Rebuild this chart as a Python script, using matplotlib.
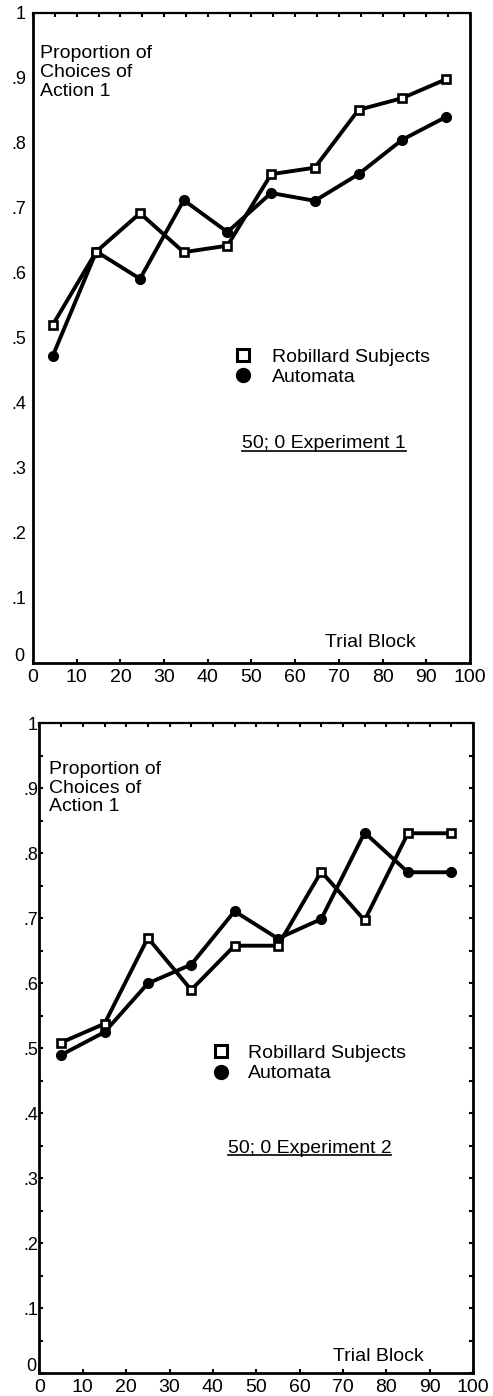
import matplotlib
matplotlib.use("Agg")
import matplotlib.pyplot as plt
from matplotlib.ticker import MultipleLocator
from matplotlib.lines import Line2D

plt.rcParams['font.family'] = ['Liberation Sans', 'DejaVu Sans']

# Experiment 1
blocks_1 = [4.5, 14.5, 24.5, 34.5, 44.5, 54.5, 64.5, 74.5, 84.5, 94.5]
robillard_1 = [0.52, 0.633, 0.692, 0.632, 0.642, 0.752, 0.762, 0.851, 0.869, 0.898]
automata_1 = [0.472, 0.633, 0.591, 0.712, 0.663, 0.723, 0.711, 0.752, 0.805, 0.840]

# Experiment 2
blocks_2 = [5, 15, 25, 35, 45, 55, 65, 75, 85, 95]
robillard_2 = [0.509, 0.538, 0.670, 0.590, 0.658, 0.658, 0.772, 0.697, 0.831, 0.831]
automata_2 = [0.490, 0.525, 0.600, 0.629, 0.711, 0.669, 0.699, 0.832, 0.771, 0.771]

x_ticks = list(range(0, 101, 10))
y_ticks = [i / 10 for i in range(11)]
# the "0" at the origin is placed by hand so it does not sit on the x label
y_labels = ['', '.1', '.2', '.3', '.4', '.5', '.6', '.7', '.8', '.9', '1']

fig = plt.figure(figsize=(4.93, 13.96), dpi=100)

panels = [
    dict(rect=[0.0669, 0.5251, 0.8864, 0.4656], x=blocks_1, r=robillard_1, a=automata_1,
         title="50; 0 Experiment 1", ypad=5, yside=False,
         prop_xy=(1.6, 0.95), leg_xy=(0.458, 0.455), leg_sq=8.5, txtpad=1.0,
         exp_xy=(47.8, 0.337), trial_xy=(66.8, 0.031)),
    dict(rect=[0.0801, 0.0162, 0.8793, 0.4656], x=blocks_2, r=robillard_2, a=automata_2,
         title="50; 0 Experiment 2", ypad=1, yside=True,
         prop_xy=(2.3, 0.942), leg_xy=(0.397, 0.477), leg_sq=9, txtpad=0.85,
         exp_xy=(43.4, 0.346), trial_xy=(67.7, 0.026)),
]

underline_texts = []
for p in panels:
    ax = fig.add_axes(p['rect'])
    ax.plot(p['x'], p['a'], color='black', lw=2.8, marker='o', ms=7,
            mfc='black', mec='black', zorder=3)
    ax.plot(p['x'], p['r'], color='black', lw=2.8, marker='s', ms=5.5,
            mfc='white', mec='black', mew=1.9, zorder=4)

    ax.set_xlim(0, 100)
    ax.set_ylim(0, 1)
    ax.set_xticks(x_ticks)
    ax.set_xticklabels([str(t) for t in x_ticks])
    ax.set_yticks(y_ticks)
    ax.set_yticklabels(y_labels)
    ax.xaxis.set_minor_locator(MultipleLocator(5))
    for s in ax.spines.values():
        s.set_linewidth(2.0)
    ax.spines['top'].set_linewidth(1.6)

    ax.tick_params(axis='x', which='major', direction='in', length=3, width=1.5,
                   top=True, labelsize=14, pad=4)
    ax.tick_params(axis='x', which='minor', direction='in', length=3, width=1.5,
                   bottom=False, top=True)
    if p['yside']:
        ax.yaxis.set_minor_locator(MultipleLocator(0.05))
        ax.tick_params(axis='y', which='both', direction='in', length=3, width=1.5,
                       left=True, right=True)
    else:
        ax.tick_params(axis='y', which='both', length=0)
    ax.tick_params(axis='y', which='major', labelsize=13, pad=p['ypad'])

    # origin label, nudged up and left a little
    ax.annotate('0', xy=(0, 0), xycoords='data', xytext=(-p['ypad'] - 1, 5),
                textcoords='offset points', ha='right', va='center', fontsize=13)

    ax.text(p['prop_xy'][0], p['prop_xy'][1], "Proportion of\nChoices of\nAction 1",
            fontsize=14, va='top', ha='left', linespacing=1.12,
            transform=ax.transData)

    handles = [
        Line2D([], [], ls='none', marker='s', ms=p['leg_sq'], mfc='white',
               mec='black', mew=2.2),
        Line2D([], [], ls='none', marker='o', ms=10, mfc='black', mec='black'),
    ]
    ax.legend(handles, ["Robillard Subjects", "Automata"], loc='center left',
              bbox_to_anchor=p['leg_xy'], frameon=False, fontsize=14,
              handlelength=1.0, handletextpad=p['txtpad'], labelspacing=0.15,
              borderpad=0, borderaxespad=0, numpoints=1)

    t = ax.text(p['exp_xy'][0], p['exp_xy'][1], p['title'], fontsize=14,
                ha='left', va='center')
    underline_texts.append((ax, t))
    ax.text(p['trial_xy'][0], p['trial_xy'][1], "Trial Block", fontsize=14,
            ha='left', va='center')

# underline the experiment labels
fig.canvas.draw()
renderer = fig.canvas.get_renderer()
for ax, t in underline_texts:
    bb = t.get_window_extent(renderer).transformed(fig.transFigure.inverted())
    y = bb.y0 + 0.1 * (bb.y1 - bb.y0)
    fig.add_artist(Line2D([bb.x0, bb.x1], [y, y], color='black', lw=1.2,
                          transform=fig.transFigure))

fig.savefig("out.png", dpi=100)
